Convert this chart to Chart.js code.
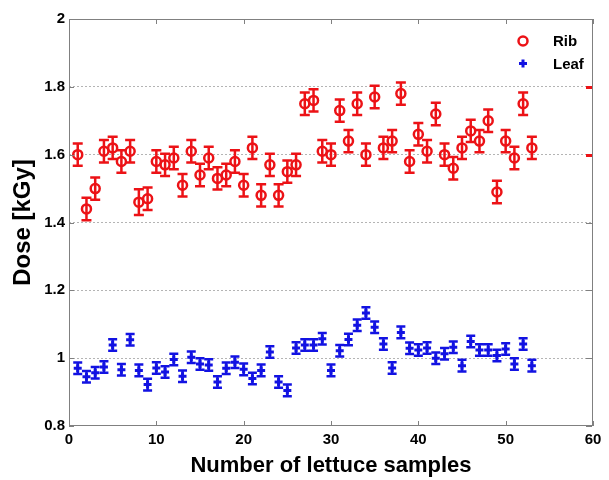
<!DOCTYPE html>
<html>
<head>
<meta charset="utf-8">
<script src="https://cdn.jsdelivr.net/npm/chart.js@4.4.1/dist/chart.umd.min.js"></script>
<style>
  html, body { margin: 0; padding: 0; background: #fff; }
</style>
</head>
<body>
<canvas id="chart" width="609" height="480"></canvas>
<script>
// sample numbers (x)
const sampleNo = [1, 2, 3, 4, 5, 6, 7, 8, 9, 10, 11, 12, 13, 14, 15, 16, 17, 18, 19, 20,
  21, 22, 23, 24, 25, 26, 27, 28, 29, 30, 31, 32, 33, 34, 35, 36, 37, 38, 39, 40,
  41, 42, 43, 44, 45, 46, 47, 48, 49, 50, 51, 52, 53];

// Rib dose (kGy) and error
const ribDose = [1.60, 1.44, 1.50, 1.61, 1.62, 1.58, 1.61, 1.46, 1.47, 1.58,
  1.57, 1.59, 1.51, 1.61, 1.54, 1.59, 1.53, 1.54, 1.58, 1.51,
  1.62, 1.48, 1.57, 1.48, 1.55, 1.57, 1.75, 1.76, 1.61, 1.60,
  1.73, 1.64, 1.75, 1.60, 1.77, 1.62, 1.64, 1.78, 1.58, 1.66,
  1.61, 1.72, 1.60, 1.56, 1.62, 1.67, 1.64, 1.70, 1.49, 1.64,
  1.59, 1.75, 1.62];
const ribErr = [0.033, 0.033, 0.033, 0.033, 0.033, 0.033, 0.033, 0.038, 0.033, 0.033,
  0.033, 0.033, 0.033, 0.033, 0.033, 0.033, 0.033, 0.033, 0.033, 0.033,
  0.033, 0.033, 0.033, 0.033, 0.033, 0.033, 0.033, 0.033, 0.033, 0.033,
  0.033, 0.033, 0.033, 0.033, 0.033, 0.033, 0.033, 0.033, 0.033, 0.033,
  0.033, 0.033, 0.033, 0.033, 0.033, 0.033, 0.033, 0.033, 0.033, 0.033,
  0.033, 0.033, 0.033];

// Leaf dose (kGy) and error
const leafDose = [0.970, 0.945, 0.957, 0.974, 1.039, 0.966, 1.054, 0.964, 0.922, 0.971,
  0.959, 0.996, 0.947, 1.003, 0.983, 0.980, 0.930, 0.970, 0.988, 0.967,
  0.940, 0.964, 1.018, 0.930, 0.905, 1.030, 1.039, 1.039, 1.057, 0.964,
  1.022, 1.055, 1.097, 1.133, 1.091, 1.042, 0.971, 1.076, 1.029, 1.024,
  1.030, 1.000, 1.013, 1.032, 0.978, 1.049, 1.024, 1.024, 1.008, 1.027,
  0.983, 1.042, 0.978];
const leafErr = [0.017, 0.017, 0.017, 0.017, 0.017, 0.017, 0.017, 0.017, 0.017, 0.017,
  0.017, 0.017, 0.017, 0.017, 0.017, 0.017, 0.017, 0.017, 0.017, 0.017,
  0.017, 0.017, 0.017, 0.017, 0.017, 0.017, 0.017, 0.017, 0.017, 0.017,
  0.017, 0.017, 0.017, 0.017, 0.017, 0.017, 0.017, 0.017, 0.017, 0.017,
  0.017, 0.017, 0.017, 0.017, 0.017, 0.017, 0.017, 0.017, 0.017, 0.017,
  0.017, 0.017, 0.017];

const xTickLabels = ['0', '10', '20', '30', '40', '50', '60'];
const yTickLabels = ['0.8', '1', '1.2', '1.4', '1.6', '1.8', '2'];

const RED = 'rgb(236,18,22)';
const BLUE = 'rgb(18,18,226)';
const FONT = "'Liberation Sans', Arial, Helvetica, sans-serif";

function toPoints(xs, ys) {
  return xs.map((x, i) => ({ x: x, y: ys[i] }));
}

// vertical error bars with caps, drawn under the markers
const errorBarPlugin = {
  id: 'errorBars',
  beforeDatasetsDraw(chart) {
    const ctx = chart.ctx;
    const yScale = chart.scales.y;
    chart.data.datasets.forEach((ds, i) => {
      if (!ds.errorBars) return;
      const meta = chart.getDatasetMeta(i);
      ctx.save();
      ctx.strokeStyle = ds.borderColor;
      ctx.lineWidth = ds.errorLineWidth;
      meta.data.forEach((pt, j) => {
        const v = ds.data[j].y;
        const e = ds.errorBars[j];
        const yTop = yScale.getPixelForValue(v + e);
        const yBot = yScale.getPixelForValue(v - e);
        const c = ds.capHalf;
        ctx.beginPath();
        ctx.moveTo(pt.x, yTop); ctx.lineTo(pt.x, yBot);
        ctx.moveTo(pt.x - c, yTop); ctx.lineTo(pt.x + c, yTop);
        ctx.moveTo(pt.x - c, yBot); ctx.lineTo(pt.x + c, yBot);
        ctx.stroke();
      });
      ctx.restore();
    });
  }
};

// box round the plot with inward ticks
const boxPlugin = {
  id: 'box',
  afterDatasetsDraw(chart, args, opts) {
    const ctx = chart.ctx;
    const a = chart.chartArea;
    const xs = chart.scales.x, ys = chart.scales.y;
    ctx.save();
    ctx.strokeStyle = '#808080';
    ctx.lineWidth = 1;
    ctx.strokeRect(a.left + 0.5, a.top + 0.5, a.right - a.left - 1, a.bottom - a.top - 1);
    ctx.beginPath();
    xs.ticks.forEach(t => {
      const px = Math.round(xs.getPixelForValue(t.value)) + 0.5;
      ctx.moveTo(px, a.bottom); ctx.lineTo(px, a.bottom - 5);
      ctx.moveTo(px, a.top); ctx.lineTo(px, a.top + 5);
    });
    ys.ticks.forEach(t => {
      const py = Math.round(ys.getPixelForValue(t.value)) + 0.5;
      ctx.moveTo(a.left, py); ctx.lineTo(a.left + 5, py);
    });
    ctx.stroke();
    ys.ticks.forEach(t => {
      const py = Math.round(ys.getPixelForValue(t.value)) + 0.5;
      const red = opts.redRightTicks.some(v => Math.abs(v - t.value) < 1e-6);
      ctx.strokeStyle = red ? RED : '#808080';
      ctx.lineWidth = red ? 3 : 1;
      ctx.beginPath();
      ctx.moveTo(a.right - 1, py); ctx.lineTo(a.right - 7, py);
      ctx.stroke();
    });
    ctx.restore();
  }
};

// legend inside the plot, upper right
const insideLegendPlugin = {
  id: 'insideLegend',
  afterDraw(chart) {
    const ctx = chart.ctx;
    const a = chart.chartArea;
    ctx.save();
    chart.data.datasets.forEach((ds, i) => {
      const mx = a.right - 70;
      const my = a.top + 22 + i * 22.5;
      ctx.strokeStyle = ds.borderColor;
      ctx.lineWidth = i === 0 ? 2.5 : 3;
      ctx.beginPath();
      if (ds.pointStyle === 'circle') {
        ctx.arc(mx, my, 4.5, 0, Math.PI * 2);
      } else {
        ctx.moveTo(mx - 4, my); ctx.lineTo(mx + 4, my);
        ctx.moveTo(mx, my - 4); ctx.lineTo(mx, my + 4);
      }
      ctx.stroke();
      ctx.fillStyle = '#000';
      ctx.font = 'bold 15px ' + FONT;
      ctx.textAlign = 'left';
      ctx.textBaseline = 'middle';
      ctx.fillText(ds.label, mx + 30, my + 1);
    });
    ctx.restore();
  }
};

const ctx = document.getElementById('chart').getContext('2d');
const doseChart = new Chart(ctx, {
  type: 'scatter',
  data: {
    datasets: [{
      label: 'Rib',
      data: toPoints(sampleNo, ribDose),
      errorBars: ribErr,
      errorLineWidth: 2.5,
      capHalf: 5,
      pointStyle: 'circle',
      pointRadius: 4.5,
      pointBorderWidth: 2.5,
      borderColor: RED,
      backgroundColor: 'rgba(0,0,0,0)'
    }, {
      label: 'Leaf',
      data: toPoints(sampleNo, leafDose),
      errorBars: leafErr,
      errorLineWidth: 2.5,
      capHalf: 4.5,
      pointStyle: 'cross',
      pointRadius: 4,
      pointBorderWidth: 3,
      borderColor: BLUE,
      backgroundColor: BLUE
    }]
  },
  options: {
    responsive: false,
    animation: false,
    layout: { padding: { top: 19, right: 16, left: 0, bottom: 0 } },
    plugins: {
      legend: { display: false },
      tooltip: { enabled: false },
      box: { redRightTicks: [1.6, 1.8] }
    },
    scales: {
      x: {
        type: 'linear',
        min: 0,
        max: 60,
        afterFit(scale) { scale.height = 54; },
        grid: { display: false, drawTicks: false },
        border: { display: false },
        ticks: {
          stepSize: 10,
          padding: 5,
          color: '#000',
          font: { family: FONT, size: 15, weight: 'bold' },
          callback: (v, i) => xTickLabels[i]
        },
        title: {
          display: true,
          text: 'Number of lettuce samples',
          color: '#000',
          font: { family: FONT, size: 22, weight: 'bold' },
          padding: { top: 0, bottom: 1 }
        }
      },
      y: {
        min: 0.8,
        max: 2,
        afterFit(scale) { scale.width = 69; },
        grid: {
          drawTicks: false,
          color: ctx => (ctx.tick && (ctx.index === 0 || ctx.index === 6)) ? 'rgba(0,0,0,0)' : '#b4b4b4',
          lineWidth: 1
        },
        border: { display: false, dash: [2, 2] },
        ticks: {
          stepSize: 0.2,
          padding: 4,
          color: '#000',
          font: { family: FONT, size: 15, weight: 'bold' },
          callback: (v, i) => yTickLabels[i]
        },
        title: {
          display: true,
          text: 'Dose [kGy]',
          color: '#000',
          font: { family: FONT, size: 24, weight: 'bold' },
          padding: { top: 9, bottom: 0 }
        }
      }
    }
  },
  plugins: [errorBarPlugin, boxPlugin, insideLegendPlugin]
});
</script>
</body>
</html>
